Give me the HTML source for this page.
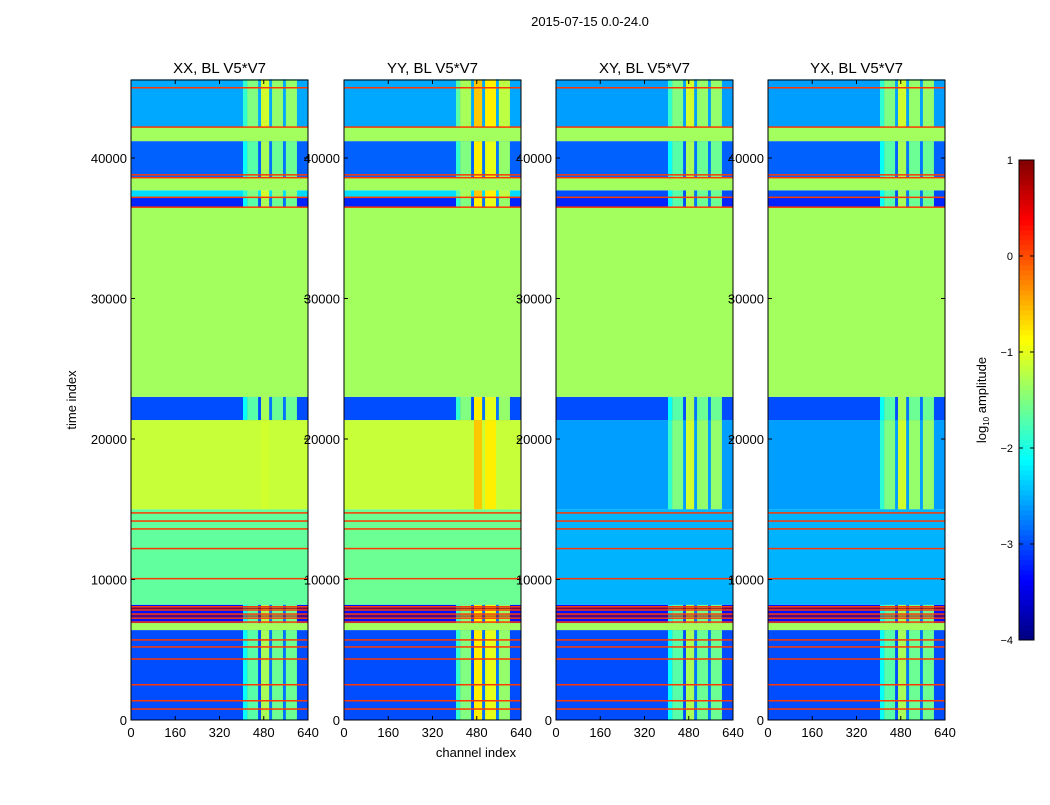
<!DOCTYPE html>
<html><head><meta charset="utf-8"><style>
body{margin:0;background:#fff;font-family:"Liberation Sans","DejaVu Sans",sans-serif;}
svg text{font-family:"Liberation Sans","DejaVu Sans",sans-serif;}
</style></head><body>
<svg id="chart" width="1050" height="800" viewBox="0 0 1050 800" xmlns="http://www.w3.org/2000/svg">
<text x="590" y="26" font-size="13" text-anchor="middle">2015-07-15 0.0-24.0</text>
<g id="panels"></g>
<text x="476" y="757" font-size="13" text-anchor="middle">channel index</text>
<text x="76" y="400" font-size="13" text-anchor="middle" transform="rotate(-90 76 400)">time index</text>
<g id="colorbar"></g>
</svg>
<script>
// ---- data ----
const panelTitles = ["XX, BL V5*V7", "YY, BL V5*V7", "XY, BL V5*V7", "YX, BL V5*V7"];
const bandEdges = [0, 6400, 6900, 8200, 15000, 21350, 23000, 36500, 37200, 37700, 38600, 41200, 42200, 45600];
const bandLevelsXX = [-3.0, -1.33, -3.3, -1.65, -1.15, -3.0, -1.33, -3.2, -2.3, -1.33, -2.9, -1.33, -2.55];
const bandLevelsYY = [-3.0, -1.33, -3.3, -1.6, -1.15, -3.0, -1.33, -3.2, -2.3, -1.33, -2.9, -1.33, -2.55];
const bandLevelsXY = [-3.0, -1.33, -3.3, -2.5, -2.6, -3.0, -1.33, -3.2, -3.0, -1.33, -2.9, -1.33, -2.6];
const bandLevelsYX = [-3.0, -1.33, -3.3, -2.5, -2.6, -3.0, -1.33, -3.2, -3.0, -1.33, -2.9, -1.33, -2.6];
const blockOnXX = [1, 0, 1, 0, 1, 1, 0, 1, 1, 0, 1, 0, 1];
const blockOnXY = [1, 0, 1, 0, 1, 1, 0, 1, 1, 0, 1, 0, 1];
const colEdges = [405, 420, 460, 470, 500, 510, 550, 560, 600];
const colLevels = [-1.9, -1.5, -2.8, -1.1, -2.6, -1.4, -2.6, -1.4];
const colLevelsYY = [-1.7, -1.3, -2.8, -0.6, -2.6, -0.8, -2.6, -1.2];
const redLineTimes = [780, 1370, 2510, 4340, 5200, 5700, 6970, 7250, 7540, 7830, 8060, 10060, 12200, 13600, 14160, 14740, 36500, 37200, 38600, 38800, 42200, 45000];
const darkRedLineTimes = [7400, 7950];
const redLineLevel = 0.1;
const darkRedLevel = 0.8;
const xTicks = [0, 160, 320, 480, 640];
const yTicks = [0, 10000, 20000, 30000, 40000];
const cbTicks = [1, 0, -1, -2, -3, -4];
const vmin = -4, vmax = 1;

// ---- helpers ----
const NS = "http://www.w3.org/2000/svg";
function jet(v){
  let x = Math.max(0, Math.min(1, (v - vmin) / (vmax - vmin)));
  const c = t => Math.round(255 * Math.max(0, Math.min(1, t)));
  return `rgb(${c(1.5 - Math.abs(4*x - 3))},${c(1.5 - Math.abs(4*x - 2))},${c(1.5 - Math.abs(4*x - 1))})`;
}
function mk(tag, attrs, parent){
  const e = document.createElementNS(NS, tag);
  for (const k in attrs) e.setAttribute(k, attrs[k]);
  parent.appendChild(e);
  return e;
}
const panelLeft = [131, 344, 556, 768];
const PW = 177, TOP = 80, BOT = 720;
const tMax = 45600;
const yScale = t => 720 - t * (140.5 / 10000);
const levelSets = [bandLevelsXX, bandLevelsYY, bandLevelsXY, bandLevelsYX];
const blockSets = [blockOnXX, blockOnXX, blockOnXY, blockOnXY];
const colSets = [colLevels, colLevelsYY, colLevels, colLevels];
const panelsG = document.getElementById("panels");

panelTitles.forEach((title, p) => {
  const L = panelLeft[p];
  const xScale = ch => L + ch * PW / 640;
  const g = mk("g", {}, panelsG);
  
  
  const lv = levelSets[p], bo = blockSets[p], cl = colSets[p];
  for (let b = 0; b < lv.length; b++){
    const y1 = yScale(Math.min(bandEdges[b+1], tMax)), y0 = yScale(bandEdges[b]);
    const r = mk("rect", {x: L, y: y1, width: PW, height: y0 - y1, fill: jet(lv[b])}, g);
    
    
    if (bo[b]){
      for (let c = 0; c < cl.length; c++){
        const v = Math.max(lv[b], cl[c] - (lv[b] < -2.8 ? 0.2 : 0));
        const cr = mk("rect", {x: xScale(colEdges[c]), y: y1, width: xScale(colEdges[c+1]) - xScale(colEdges[c]), height: y0 - y1, fill: jet(v)}, g);
        
        
      }
    }
  }
  redLineTimes.forEach(t => {
    const rl = mk("rect", {x: L, y: yScale(t) - 0.75, width: PW, height: 1.5, fill: jet(redLineLevel)}, g);
    
    
  });
  darkRedLineTimes.forEach(t => {
    const rl = mk("rect", {x: L, y: yScale(t) - 0.5, width: PW, height: 1, fill: jet(darkRedLevel)}, g);
    
    
  });
  const fr = mk("rect", {x: L, y: TOP, width: PW, height: BOT - TOP, fill: "none", stroke: "#000", "stroke-width": 1}, g);
  
  
  const tt = mk("text", {x: L + PW/2, y: 73, "font-size": 15, "text-anchor": "middle"}, g);
  tt.textContent = title;
  
  
  xTicks.forEach(v => {
    const x = xScale(v);
    mk("line", {x1: x, x2: x, y1: BOT, y2: BOT - 4, stroke: "#000"}, g);
    mk("line", {x1: x, x2: x, y1: TOP, y2: TOP + 4, stroke: "#000"}, g);
    const tx = mk("text", {x: x, y: 737, "font-size": 13, "text-anchor": "middle"}, g);
    tx.textContent = v;
    
    
  });
  yTicks.forEach(v => {
    const y = yScale(v);
    mk("line", {x1: L, x2: L + 4, y1: y, y2: y, stroke: "#000"}, g);
    mk("line", {x1: L + PW, x2: L + PW - 4, y1: y, y2: y, stroke: "#000"}, g);
    const ty = mk("text", {x: L - 4, y: y + 5, "font-size": 13, "text-anchor": "end"}, g);
    ty.textContent = v;
    
    
  });
});

// colorbar
const cb = document.getElementById("colorbar");
const CBX = 1019, CBW = 15, CBT = 160, CBB = 640;
const cbY = v => CBB - (v - vmin) / (vmax - vmin) * (CBB - CBT);
const steps = 96;
for (let i = 0; i < steps; i++){
  const v0 = vmin + (vmax - vmin) * i / steps, v1 = vmin + (vmax - vmin) * (i + 1) / steps;
  mk("rect", {x: CBX, y: cbY(v1) - 0.3, width: CBW, height: cbY(v0) - cbY(v1) + 0.6, fill: jet((v0 + v1) / 2)}, cb);
}
mk("rect", {x: CBX, y: CBT, width: CBW, height: CBB - CBT, fill: "none", stroke: "#000"}, cb);
cbTicks.forEach(v => {
  const y = cbY(v);
  mk("line", {x1: CBX, x2: CBX + 4, y1: y, y2: y, stroke: "#000"}, cb);
  mk("line", {x1: CBX + CBW, x2: CBX + CBW - 4, y1: y, y2: y, stroke: "#000"}, cb);
  const t = mk("text", {x: 1013, y: y + 4, "font-size": 11, "text-anchor": "end"}, cb);
  t.textContent = (v < 0 ? "\u2212" + (-v) : v);
  
  
});
const cl = mk("text", {x: 986, y: 400, "font-size": 13, "text-anchor": "middle", transform: "rotate(-90 986 400)"}, cb);
cl.innerHTML = 'log<tspan font-size="8" dy="3">10</tspan><tspan dy="-3"> amplitude</tspan>';


</script>
</body></html>
